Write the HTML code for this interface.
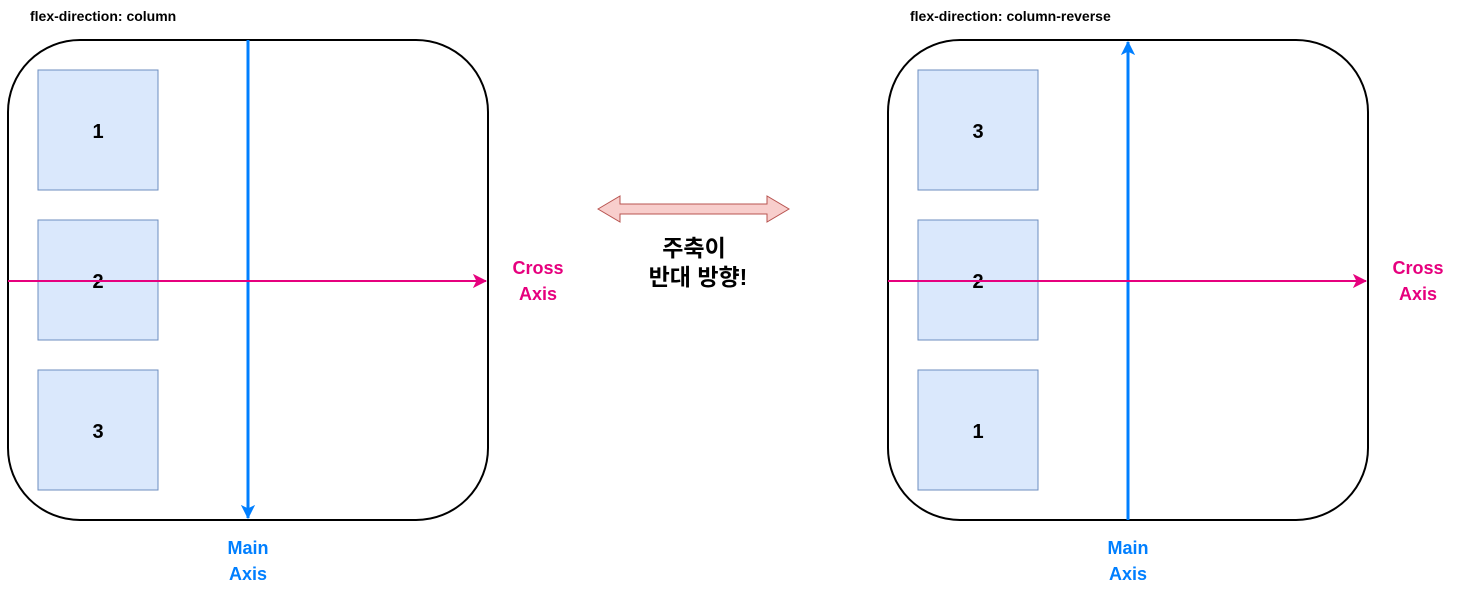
<!DOCTYPE html>
<html><head><meta charset="utf-8"><style>
body{margin:0;background:#fff}
svg text{font-family:"Liberation Sans","Noto Sans CJK KR",sans-serif;font-weight:bold}
</style></head><body>
<svg width="1459" height="590" viewBox="0 0 1459 590" xmlns="http://www.w3.org/2000/svg">
<defs>
<marker id="ab" markerWidth="14" markerHeight="14" refX="13" refY="7" orient="auto" markerUnits="userSpaceOnUse"><path d="M1,1 L13,7 L1,13 L4,7 Z" fill="#007FFF" stroke="#007FFF"/></marker>
<marker id="am" markerWidth="14" markerHeight="14" refX="13" refY="7" orient="auto" markerUnits="userSpaceOnUse"><path d="M1,1 L13,7 L1,13 L4,7 Z" fill="#E6007E" stroke="#E6007E"/></marker>
</defs>
<text x="30" y="21" font-size="14">flex-direction: column</text>
<text x="910" y="21" font-size="14">flex-direction: column-reverse</text>
<g>
<rect x="8" y="40" width="480" height="480" rx="72" fill="#fff" stroke="#000" stroke-width="2"/>
<rect x="38" y="70" width="120" height="120" fill="#dae8fc" stroke="#6c8ebf"/>
<rect x="38" y="220" width="120" height="120" fill="#dae8fc" stroke="#6c8ebf"/>
<rect x="38" y="370" width="120" height="120" fill="#dae8fc" stroke="#6c8ebf"/>
<text x="98" y="138" font-size="20" text-anchor="middle">1</text>
<text x="98" y="288" font-size="20" text-anchor="middle">2</text>
<text x="98" y="438" font-size="20" text-anchor="middle">3</text>
<line x1="248" y1="40" x2="248" y2="518" stroke="#007FFF" stroke-width="3" marker-end="url(#ab)"/>
<line x1="8" y1="281" x2="486" y2="281" stroke="#E6007E" stroke-width="2" marker-end="url(#am)"/>
<text x="248" y="554" font-size="18" fill="#007FFF" text-anchor="middle">Main</text>
<text x="248" y="580" font-size="18" fill="#007FFF" text-anchor="middle">Axis</text>
<text x="538" y="274" font-size="18" fill="#E6007E" text-anchor="middle">Cross</text>
<text x="538" y="300" font-size="18" fill="#E6007E" text-anchor="middle">Axis</text>
</g>
<g>
<rect x="888" y="40" width="480" height="480" rx="72" fill="#fff" stroke="#000" stroke-width="2"/>
<rect x="918" y="70" width="120" height="120" fill="#dae8fc" stroke="#6c8ebf"/>
<rect x="918" y="220" width="120" height="120" fill="#dae8fc" stroke="#6c8ebf"/>
<rect x="918" y="370" width="120" height="120" fill="#dae8fc" stroke="#6c8ebf"/>
<text x="978" y="138" font-size="20" text-anchor="middle">3</text>
<text x="978" y="288" font-size="20" text-anchor="middle">2</text>
<text x="978" y="438" font-size="20" text-anchor="middle">1</text>
<line x1="1128" y1="520" x2="1128" y2="42" stroke="#007FFF" stroke-width="3" marker-end="url(#ab)"/>
<line x1="888" y1="281" x2="1366" y2="281" stroke="#E6007E" stroke-width="2" marker-end="url(#am)"/>
<text x="1128" y="554" font-size="18" fill="#007FFF" text-anchor="middle">Main</text>
<text x="1128" y="580" font-size="18" fill="#007FFF" text-anchor="middle">Axis</text>
<text x="1418" y="274" font-size="18" fill="#E6007E" text-anchor="middle">Cross</text>
<text x="1418" y="300" font-size="18" fill="#E6007E" text-anchor="middle">Axis</text>
</g>
<path d="M598,209 L620,196 L620,204 L767,204 L767,196 L789,209 L767,222 L767,214 L620,214 L620,222 Z" fill="#f8cecc" stroke="#b85450"/>
<text x="694" y="256" font-size="23" text-anchor="middle">주축이</text>
<text x="698" y="285" font-size="23" text-anchor="middle">반대 방향!</text>
</svg>
</body></html>
